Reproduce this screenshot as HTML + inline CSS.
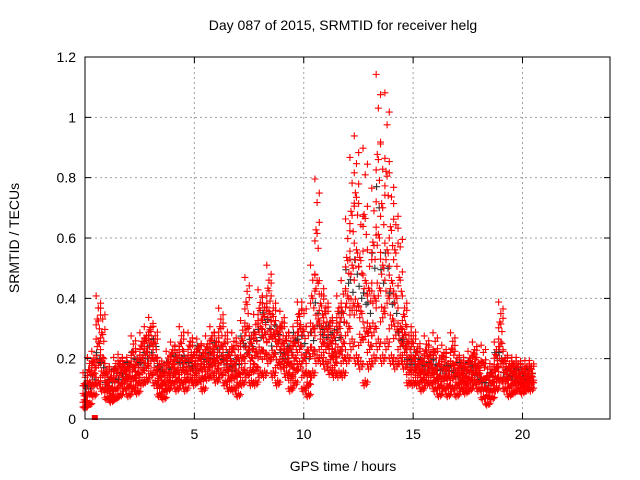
<!DOCTYPE html>
<html><head><meta charset="utf-8"><style>
body{margin:0;background:#fff;}
svg{display:block;font-family:"Liberation Sans",sans-serif;}
</style></head><body>
<svg id="chart" width="640" height="480">
<text x="343" y="30" font-size="14" text-anchor="middle">Day 087 of 2015, SRMTID for receiver helg</text>
<text x="0" y="0" transform="translate(19,238) rotate(-90)" font-size="14" text-anchor="middle">SRMTID / TECUs</text>
<text x="343" y="471" font-size="14" text-anchor="middle">GPS time / hours</text>
<g id="grid"></g><g id="marks"></g><g id="axes"></g>
</svg>
<script>
const times=[0,0.2,0.4,0.6,0.8,1.0,1.2,1.4,1.6,1.8,2.0,2.2,2.4,2.6,2.8,3.0,3.2,3.4,3.6,3.8,4.0,4.2,4.4,4.6,4.8,5.0,5.2,5.4,5.6,5.8,6.0,6.2,6.4,6.6,6.8,7.0,7.2,7.4,7.6,7.8,8.0,8.2,8.4,8.6,8.8,9.0,9.2,9.4,9.6,9.8,10.0,10.2,10.4,10.6,10.8,11.0,11.2,11.4,11.6,11.8,12.0,12.2,12.4,12.6,12.8,13.0,13.2,13.4,13.6,13.8,14.0,14.2,14.4,14.6,14.8,15.0,15.2,15.4,15.6,15.8,16.0,16.2,16.4,16.6,16.8,17.0,17.2,17.4,17.6,17.8,18.0,18.2,18.4,18.6,18.8,19.0,19.2,19.4,19.6,19.8,20.0,20.2,20.4];
const lowVals=[.04,.05,.08,.12,.1,.07,.06,.07,.08,.1,.08,.1,.09,.12,.13,.15,.12,.08,.07,.1,.12,.1,.12,.1,.13,.12,.13,.1,.14,.15,.13,.15,.12,.1,.1,.08,.12,.15,.12,.12,.15,.15,.2,.15,.12,.18,.15,.1,.12,.18,.1,.08,.15,.2,.2,.18,.16,.15,.15,.15,.2,.25,.2,.18,.12,.18,.2,.25,.2,.25,.2,.18,.2,.18,.12,.12,.12,.1,.12,.12,.1,.08,.1,.08,.1,.08,.1,.09,.1,.12,.1,.07,.05,.07,.1,.13,.1,.08,.09,.1,.09,.1,.1];
const midVals=[.08,.12,.15,.25,.2,.12,.1,.13,.15,.16,.14,.17,.15,.2,.22,.25,.2,.14,.12,.15,.18,.16,.2,.16,.2,.18,.2,.17,.2,.22,.2,.24,.2,.17,.18,.15,.2,.3,.2,.22,.3,.28,.35,.28,.25,.25,.22,.18,.2,.3,.2,.15,.3,.45,.3,.3,.25,.22,.3,.25,.4,.5,.55,.35,.45,.3,.4,.6,.5,.55,.45,.4,.3,.28,.2,.2,.18,.16,.18,.18,.16,.14,.17,.14,.18,.15,.15,.14,.16,.18,.15,.13,.1,.12,.17,.25,.16,.14,.15,.14,.13,.14,.14];
const highVals=[.15,.2,.22,.4,.36,.18,.17,.2,.21,.2,.2,.27,.22,.28,.3,.33,.3,.2,.18,.22,.25,.24,.3,.22,.28,.24,.26,.24,.27,.3,.28,.36,.3,.25,.28,.25,.32,.46,.3,.34,.42,.4,.5,.4,.32,.35,.3,.28,.3,.38,.38,.3,.5,.78,.45,.4,.35,.32,.4,.45,.65,.85,.92,.7,.88,.55,.75,1.12,.9,1.06,.8,.7,.62,.4,.3,.3,.26,.22,.27,.24,.28,.22,.24,.2,.28,.22,.2,.2,.22,.25,.2,.24,.18,.18,.25,.38,.22,.2,.2,.2,.18,.19,.19];
const blackVals=[.1,.1,.13,.2,.17,.11,.12,.15,.12,.14,.17,.2,.18,.17,.2,.22,.24,.16,.15,.17,.15,.19,.17,.19,.17,.16,.22,.19,.18,.2,.23,.21,.18,.2,.16,.18,.25,.22,.24,.26,.27,.32,.3,.22,.28,.2,.2,.22,.26,.24,.25,.2,.26,.35,.28,.27,.28,.26,.27,.32,.45,.42,.48,.4,.38,.35,.5,.7,.45,.5,.38,.35,.26,.24,.18,.18,.2,.18,.16,.17,.18,.16,.15,.16,.16,.14,.17,.15,.17,.16,.13,.12,.11,.14,.2,.2,.14,.15,.13,.15,.15,.13,.15];
const xTicks=[0,5,10,15,20];
const yTicks=[0,0.2,0.4,0.6,0.8,1,1.2];
const yTickLabels=["0","0.2","0.4","0.6","0.8","1","1.2"];
const X0=85,X1=610,Y0=419,Y1=57;
const xs=v=>X0+v/24*(X1-X0);
const ys=v=>Y0-v/1.2*(Y0-Y1);
const NS="http://www.w3.org/2000/svg";
const grid=document.getElementById('grid'),marks=document.getElementById('marks'),axes=document.getElementById('axes');
function mk(p,t,a){const e=document.createElementNS(NS,t);for(const k in a)e.setAttribute(k,a[k]);p.appendChild(e);return e;}
yTicks.forEach((v,i)=>{
 const y=ys(v);
 if(i>0&&i<yTicks.length-1){const g=mk(grid,'line',{x1:X0,x2:X1,y1:y,y2:y,stroke:'#a0a0a0','stroke-dasharray':'2,3'});
 
 }
 const tk=mk(axes,'path',{d:`M${X0} ${y}h6M${X1} ${y}h-6`,stroke:'#000'});
 
 
 const t=mk(axes,'text',{x:X0-9,y:y+5,'font-size':14,'text-anchor':'end'});t.textContent=yTickLabels[i];
 
 
});
xTicks.forEach((v,i)=>{
 const x=xs(v);
 if(i>0){const g=mk(grid,'line',{x1:x,x2:x,y1:Y0,y2:Y1,stroke:'#a0a0a0','stroke-dasharray':'2,3'});
 
 }
 const tk=mk(axes,'path',{d:`M${x} ${Y0}v-6M${x} ${Y1}v6`,stroke:'#000'});
 
 
 const t=mk(axes,'text',{x:x,y:Y0+20,'font-size':14,'text-anchor':'middle'});t.textContent=v;
 
 
});
const fr=mk(axes,'rect',{x:X0,y:Y1,width:X1-X0,height:Y0-Y1,fill:'none',stroke:'#000'});


function plus(x,y,c,name){const p=mk(marks,'path',{d:`M${x-3.5} ${y}h7M${x} ${y-3.5}v7`,stroke:c,'stroke-width':1.1});
 
 }
const OFFX=[-0.9,-0.4,0.1,0.6,1.1];
const OFFY=[1,0.92,1.06,0.96,1.02];
times.forEach((t,i)=>{
 const x=xs(t),dx=(X1-X0)/24*0.1;
 plus(x+dx*0.5,ys(blackVals[i]),'#333','black-point');
 plus(x-dx*0.7,ys(blackVals[i]*1.1),'#333','black-point');
 const vals=[lowVals[i],(lowVals[i]+midVals[i])/2,midVals[i],(midVals[i]+highVals[i])/2,highVals[i]];
 vals.forEach((v,j)=>{
  OFFX.forEach((o,k)=>{
   if(j===4&&k%2===1)return;
   plus(x+dx*o,ys(v*OFFY[(k+j)%5]),'#f00','red-point');
  });
 });
});
const z=mk(marks,'rect',{x:xs(0.45)-3,y:Y0-4,width:6,height:5,fill:'#f00'});


</script>
</body></html>
